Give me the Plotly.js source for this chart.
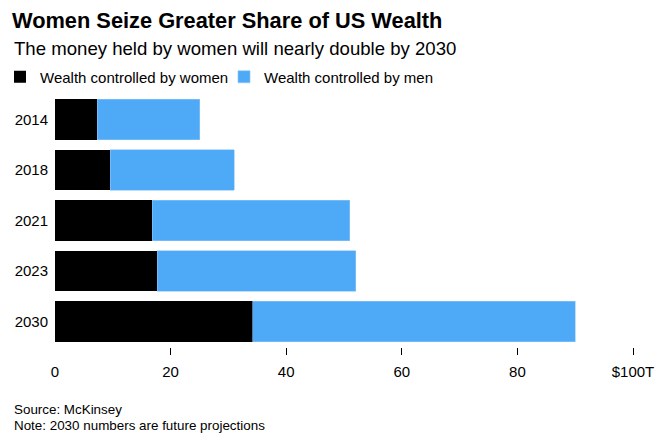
<!DOCTYPE html>
<html>
<head>
<meta charset="utf-8">
<script src="https://cdn.plot.ly/plotly-3.0.1.min.js"></script>
<style>html,body{margin:0;padding:0;background:#fff;}#chart{width:669px;height:442px;}</style>
</head>
<body>
<div id="chart"></div>
<script>
const years = ["2014", "2018", "2021", "2023", "2030"];
const womenWealth = [7.3, 9.6, 16.8, 17.7, 34.2];
const menWealth = [17.7, 21.4, 34.2, 34.3, 55.8];
const tickValues = [0, 20, 40, 60, 80, 100];
const tickLabels = ["0", "20", "40", "60", "80", "$100T"];
const markTicks = [20, 40, 60, 80, 100];

const FONT = "Liberation Sans, Arial, Helvetica, sans-serif";

const traces = [
  {
    type: "bar", orientation: "h", name: "Wealth controlled by women",
    y: years, x: womenWealth,
    marker: {color: "#000000", line: {width: 0}},
    hoverinfo: "x+y"
  },
  {
    type: "bar", orientation: "h", name: "Wealth controlled by men",
    y: years, x: menWealth,
    marker: {color: "#4ea9f6", line: {color: "#8cc8fa", width: 0.6}},
    hoverinfo: "x+y"
  },
  {
    type: "scatter", x: [], y: [], xaxis: "x2", yaxis: "y",
    showlegend: false, hoverinfo: "skip"
  }
];

const layout = {
  width: 669, height: 442,
  paper_bgcolor: "#ffffff", plot_bgcolor: "#ffffff",
  font: {family: FONT, color: "#000000", size: 15},
  barmode: "stack",
  bargap: 0.2,
  margin: {l: 55.3, r: 36.3, t: 93.5, b: 94.5, pad: 0},
  title: {
    text: "<b>Women Seize Greater Share of US Wealth</b>",
    font: {family: FONT, size: 21.8, color: "#000000"},
    xref: "container", yref: "container",
    x: 12 / 669, xanchor: "left",
    y: 1 - 20 / 442, yanchor: "middle"
  },
  showlegend: true,
  legend: {
    orientation: "h",
    xref: "container", yref: "container",
    x: -0.005, xanchor: "left",
    y: 1 - 77 / 442, yanchor: "middle",
    font: {family: FONT, size: 15, color: "#000000"},
    traceorder: "normal",
    itemclick: false, itemdoubleclick: false,
    entrywidth: 179, entrywidthmode: "pixels",
    bgcolor: "rgba(0,0,0,0)"
  },
  xaxis: {
    range: [0, 100],
    tickvals: tickValues, ticktext: tickLabels,
    ticks: "", showgrid: false, zeroline: false, showline: false,
    ticklabelstandoff: 14,
    tickfont: {family: FONT, size: 15, color: "#000000"},
    fixedrange: true
  },
  xaxis2: {
    overlaying: "x", matches: "x", side: "bottom", anchor: "y",
    range: [0, 100],
    tickvals: markTicks, ticks: "outside", ticklen: 7, tickwidth: 1,
    tickcolor: "#000000",
    showticklabels: false, showgrid: false, zeroline: false, showline: false,
    fixedrange: true
  },
  yaxis: {
    type: "category",
    autorange: "reversed",
    ticks: "", showgrid: false, zeroline: false, showline: false,
    ticklabelstandoff: 6,
    tickfont: {family: FONT, size: 15, color: "#000000"},
    fixedrange: true
  },
  annotations: [
    {
      text: "The money held by women will nearly double by 2030",
      xref: "paper", yref: "paper", showarrow: false,
      x: (12 - 55.3) / 577.4, xanchor: "left",
      y: 1 + (93.5 - 48) / 254, yanchor: "middle",
      font: {family: FONT, size: 18.6, color: "#000000"}
    },
    {
      text: "Source: McKinsey",
      xref: "paper", yref: "paper", showarrow: false,
      x: (12 - 55.3) / 577.4, xanchor: "left",
      y: -(410 - 347.5) / 254, yanchor: "middle",
      font: {family: FONT, size: 13.4, color: "#000000"}
    },
    {
      text: "Note: 2030 numbers are future projections",
      xref: "paper", yref: "paper", showarrow: false,
      x: (12 - 55.3) / 577.4, xanchor: "left",
      y: -(426 - 347.5) / 254, yanchor: "middle",
      font: {family: FONT, size: 13.4, color: "#000000"}
    }
  ]
};

Plotly.newPlot("chart", traces, layout, {displayModeBar: false, staticPlot: true});
</script>
</body>
</html>
